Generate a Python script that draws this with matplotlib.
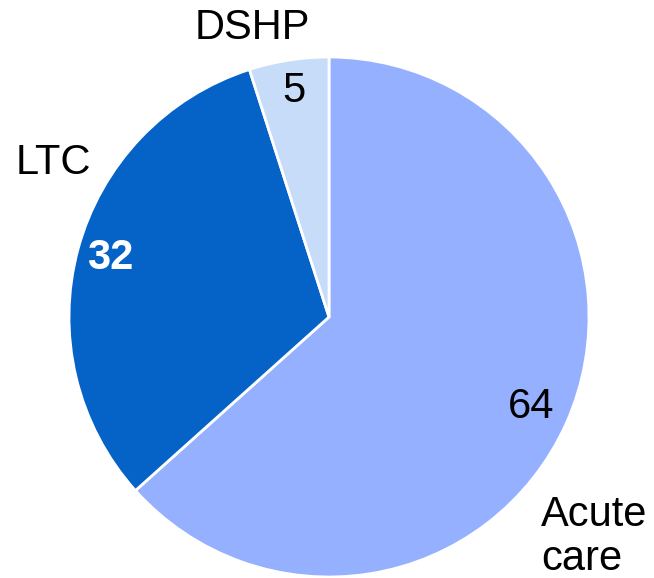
import numpy as np
import matplotlib
matplotlib.use("Agg")
import matplotlib.pyplot as plt

categories = ["Acute\ncare", "LTC", "DSHP"]
values = [64, 32, 5]
colors = ["#94b0ff", "#0563c8", "#c6dcf8"]
value_colors = ["black", "white", "black"]
value_weights = ["normal", "bold", "normal"]
value_radius = [0.85, 0.87, 0.88]

W, H = 654, 578
cx, cy, R = 329, 317, 260

fig = plt.figure(figsize=(W / 100, H / 100), dpi=100)
ax = fig.add_axes([0, 0, 1, 1])

font = "Liberation Sans"
fs = 30

wedges, _ = ax.pie(values, colors=colors, startangle=90, counterclock=False,
                   radius=1.0, center=(0, 0), frame=True,
                   wedgeprops=dict(edgecolor="white", linewidth=2))
ax.set_xlim(-cx / R, (W - cx) / R)
ax.set_ylim(-(H - cy) / R, cy / R)
ax.set_aspect("equal")
ax.axis("off")

# value labels along each wedge's bisector
for w, v, c, fw, r in zip(wedges, values, value_colors, value_weights, value_radius):
    mid = np.deg2rad((w.theta1 + w.theta2) / 2)
    ax.text(r * np.cos(mid), r * np.sin(mid), str(v), ha="center", va="center",
            fontsize=fs, color=c, fontweight=fw, family=font)

# category labels outside the pie
ax.text(0.815, -0.846, categories[0], ha="left", va="center", fontsize=fs,
        family=font, linespacing=1.12)
ax.text(-1.062, 0.592, categories[1], ha="center", va="center", fontsize=fs,
        family=font)
ax.text(-0.295, 1.11, categories[2], ha="center", va="center", fontsize=fs,
        family=font)

fig.savefig("out.png", dpi=100)
